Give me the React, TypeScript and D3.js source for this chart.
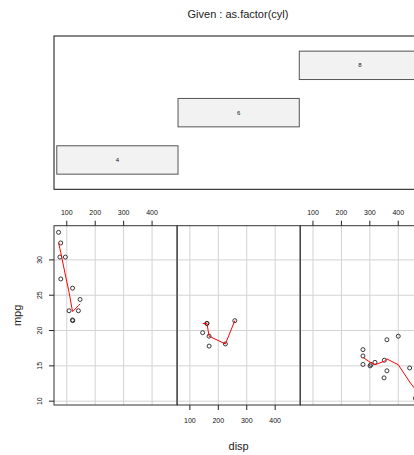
import React from "react";
import * as d3 from "d3";

// mtcars subset: mpg, cyl, disp
const mpg = [21.0, 21.0, 22.8, 21.4, 18.7, 18.1, 14.3, 24.4, 22.8, 19.2, 17.8, 16.4, 17.3, 15.2, 10.4, 10.4, 14.7, 32.4, 30.4, 33.9, 21.5, 15.5, 15.2, 13.3, 19.2, 27.3, 26.0, 30.4, 15.8, 19.7, 15.0, 21.4];
const cyl = [6, 6, 4, 6, 8, 6, 8, 4, 4, 6, 6, 8, 8, 8, 8, 8, 8, 4, 4, 4, 4, 8, 8, 8, 8, 4, 4, 4, 8, 6, 8, 4];
const disp = [160, 160, 108, 258, 360, 225, 360, 146.7, 140.8, 167.6, 167.6, 275.8, 275.8, 275.8, 472, 460, 440, 78.7, 75.7, 71.1, 120.1, 318, 304, 350, 400, 79, 120.3, 95.1, 351, 145, 301, 121];
const levels = [4, 6, 8];
const xTicks = [100, 200, 300, 400];
const yTicks = [10, 15, 20, 25, 30];

// red smooth curves (lowess) per panel
const smooth4Disp = [71.1, 75.7, 78.7, 79, 95.1, 108, 120.1, 120.3, 121, 140.8, 146.7];
const smooth4Mpg = [32.42, 31.61, 31.06, 31.01, 27.86, 25.41, 22.71, 22.7, 22.7, 23.52, 23.78];
const smooth6Disp = [145, 160, 160, 167.6, 167.6, 225, 258];
const smooth6Mpg = [21.0, 21.0, 21.0, 19.2, 19.2, 18.1, 21.4];
const smooth8Disp = [275.8, 275.8, 275.8, 301, 304, 318, 350, 351, 360, 360, 400, 440, 460, 472];
const smooth8Mpg = [16.21, 16.21, 16.21, 15.51, 15.44, 15.16, 15.64, 15.67, 15.98, 15.98, 15.16, 12.73, 11.67, 10.98];
const smoothDisp = [smooth4Disp, smooth6Disp, smooth8Disp];
const smoothMpg = [smooth4Mpg, smooth6Mpg, smooth8Mpg];

const FONT = "'Liberation Sans', Arial, Helvetica, sans-serif";

export default function App() {
  const PL = 54, PW = 123.1, PT = 225.7, PB = 405;
  const GT = 36, GB = 189.3;
  const ext = (lo: number, hi: number) => [lo - 0.04 * (hi - lo), hi + 0.04 * (hi - lo)];
  const [dMin, dMax] = d3.extent(disp) as [number, number];
  const [mMin, mMax] = d3.extent(mpg) as [number, number];
  const xDom = ext(dMin, dMax);
  const y = d3.scaleLinear().domain(ext(mMin, mMax)).range([PB, PT]);

  // given panel
  const aLo = 0.5, aHi = levels.length + 0.5;
  const gx = d3.scaleLinear().domain(ext(aLo + 0.03 * (aHi - aLo), aHi - 0.03 * (aHi - aLo))).range([PL, PL + 3 * PW]);
  const gy = d3.scaleLinear().domain(ext(0.5, levels.length + 0.5)).range([GB, GT]);

  const panels = levels.map((lv, k) => {
    const x = d3.scaleLinear().domain(xDom).range([PL + k * PW, PL + (k + 1) * PW]);
    const ids = d3.range(mpg.length).filter((i) => cyl[i] === lv);
    const px = ids.map((i) => disp[i]);
    const py = ids.map((i) => mpg[i]);
    const sm = smoothDisp[k].map((d, i) => [d, smoothMpg[k][i]] as [number, number]);
    const line = d3.line<[number, number]>().x((d) => x(d[0])).y((d) => y(d[1]));
    return { k, x, px, py, path: line(sm) as string };
  });

  return (
    <div style={{ position: "absolute", left: 0, top: 0 }}>
      <svg width={414} height={455} style={{ display: "block", background: "#fff" }} fontFamily={FONT}>
        <text x={238} y={18} fontSize={11} textAnchor="middle" fill="#222">Given : as.factor(cyl)</text>
        {/* given panel */}
        <rect x={PL} y={GT} width={3 * PW} height={GB - GT} fill="none" stroke="#111" strokeWidth={1} />
        {levels.map((lv, i) => (
          <g key={lv}>
            <rect x={gx(i + 0.5)} y={gy(i + 1 + 0.3)} width={gx(i + 1.5) - gx(i + 0.5)} height={gy(i + 1 - 0.3) - gy(i + 1 + 0.3)} fill="#F2F2F2" stroke="#555" strokeWidth={1} />
            <text x={gx(i + 1)} y={gy(i + 1) + 2} fontSize={6} textAnchor="middle" fill="#111">{lv}</text>
          </g>
        ))}
        {/* dependence panels */}
        {panels.map((p) => (
          <g key={p.k}>
            {xTicks.map((t) => (
              <line key={"gx" + t} x1={p.x(t)} x2={p.x(t)} y1={PT} y2={PB} stroke="#D3D3D3" strokeWidth={1} />
            ))}
            {yTicks.map((t) => (
              <line key={"gy" + t} x1={PL + p.k * PW} x2={PL + (p.k + 1) * PW} y1={y(t)} y2={y(t)} stroke="#D3D3D3" strokeWidth={1} />
            ))}
            <rect x={PL + p.k * PW} y={PT} width={PW} height={PB - PT} fill="none" stroke="#333" strokeWidth={1} />
            {p.px.map((d, i) => (
              <circle key={i} cx={p.x(d)} cy={y(p.py[i])} r={2} fill="none" stroke="#222" strokeWidth={0.9} />
            ))}
            <path d={p.path} fill="none" stroke="#FF0000" strokeWidth={1} />
            {xTicks.map((t) => {
              const top = p.k % 2 === 0;
              return (
                <g key={"t" + t}>
                  <line x1={p.x(t)} x2={p.x(t)} y1={top ? PT : PB} y2={top ? PT - 5 : PB + 5} stroke="#222" strokeWidth={1} />
                  <text x={p.x(t)} y={top ? 215.2 : 422.5} fontSize={7} textAnchor="middle" fill="#111">{t}</text>
                </g>
              );
            })}
          </g>
        ))}
        {yTicks.map((t) => (
          <g key={"yt" + t}>
            <line x1={PL} x2={PL - 5} y1={y(t)} y2={y(t)} stroke="#222" strokeWidth={1} />
            <text transform={`translate(41.5,${y(t)}) rotate(-90)`} fontSize={7} textAnchor="middle" fill="#111">{t}</text>
          </g>
        ))}
        <text transform={`translate(20.5,${(PT + PB) / 2}) rotate(-90)`} fontSize={11} textAnchor="middle" fill="#222">mpg</text>
        <text x={PL + 1.5 * PW} y={450} fontSize={11} textAnchor="middle" fill="#222">disp</text>
      </svg>
    </div>
  );
}
